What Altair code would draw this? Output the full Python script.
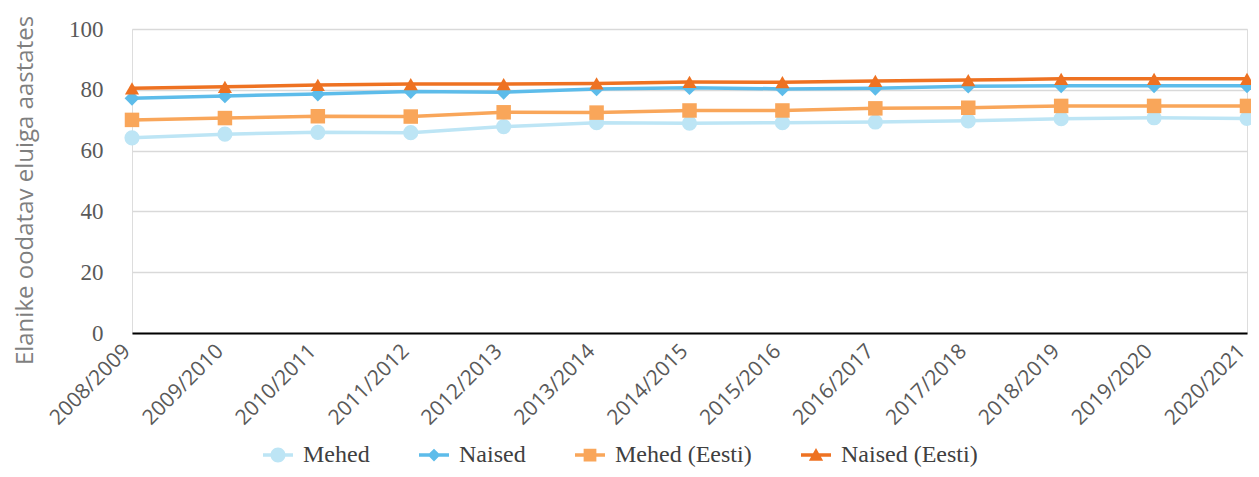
import altair as alt
import pandas as pd

categories = ["2008/2009", "2009/2010", "2010/2011", "2011/2012", "2012/2013",
              "2013/2014", "2014/2015", "2015/2016", "2016/2017", "2017/2018",
              "2018/2019", "2019/2020", "2020/2021"]
series = ["Mehed", "Naised", "Mehed (Eesti)", "Naised (Eesti)"]
mehed = [64.2, 65.4, 66.0, 65.9, 67.9, 69.2, 69.0, 69.2, 69.4, 69.8, 70.5, 70.8, 70.6]
naised = [77.2, 78.0, 78.6, 79.4, 79.2, 80.3, 80.7, 80.3, 80.5, 81.2, 81.3, 81.3, 81.3]
mehed_eesti = [70.1, 70.7, 71.3, 71.2, 72.6, 72.5, 73.2, 73.2, 73.9, 74.1, 74.7, 74.7, 74.7]
naised_eesti = [80.5, 81.0, 81.6, 81.9, 81.9, 82.1, 82.6, 82.5, 82.9, 83.2, 83.6, 83.6, 83.6]

colors = ["#BDE5F5", "#5DBCEA", "#F9A65A", "#EE7222"]
shapes = ["circle", "diamond", "square", "triangle-up"]

rows = []
for name, vals in zip(series, [mehed, naised, mehed_eesti, naised_eesti]):
    for c, v in zip(categories, vals):
        rows.append({"aasta": c, "series": name, "value": v})
df = pd.DataFrame(rows)

# legend symbols: a horizontal bar with the series marker on top
bar = "M-2,-0.22L2,-0.22L2,0.22L-2,0.22Z"
legend_shapes = [
    bar + "M1,0A1,1,0,1,1,-1,0A1,1,0,1,1,1,0Z",
    bar + "M0,-0.85L0.85,0L0,0.85L-0.85,0Z",
    bar + "M-0.85,-0.85L0.85,-0.85L0.85,0.85L-0.85,0.85Z",
    bar + "M0,-0.95L0.95,0.75L-0.95,0.75Z",
]

legend = alt.Legend(
    title=None, orient="none", legendX=134, legendY=414, direction="horizontal",
    labelFont="Liberation Serif", labelFontSize=24, labelColor="#404040",
    symbolSize=225, labelOffset=13, columnPadding=49,
    symbolStrokeWidth=0, symbolOpacity=1,
)

x = alt.X("aasta:N", sort=categories,
          scale=alt.Scale(type="point", padding=0),
          axis=alt.Axis(title=None, labelAngle=-45, labelAlign="right", labelBaseline="top",
                        labelFont="Open Sans", labelFontSize=21, labelColor="#595959",
                        labelPadding=7, labelOffset=-13, ticks=False, domain=True,
                        domainColor="#000000", domainWidth=2, grid=False, labelOverlap=False))
y = alt.Y("value:Q", scale=alt.Scale(domain=[0, 100], nice=False),
          axis=alt.Axis(title="Elanike oodatav eluiga aastates", values=[0, 20, 40, 60, 80, 100],
                        titleFont="Open Sans", titleFontSize=24, titleFontWeight="normal",
                        titleColor="#7F7F7F", titlePadding=31, titleY=161,
                        labelFont="Liberation Serif", labelFontSize=23, labelColor="#595959",
                        labelPadding=29, ticks=False, domain=False,
                        grid=True, gridColor="#D9D9D9", gridWidth=1.5))


def col(leg):
    return alt.Color("series:N", sort=series, scale=alt.Scale(domain=series, range=colors), legend=leg)


lines = alt.Chart(df).mark_line(strokeWidth=3.5).encode(
    x=x, y=y, color=col(None), detail="series:N")
points = alt.Chart(df).mark_point(filled=True, opacity=1, strokeWidth=0).encode(
    x=x, y=y, color=col(None),
    shape=alt.Shape("series:N", sort=series, scale=alt.Scale(domain=series, range=shapes), legend=None),
    size=alt.Size("series:N", sort=series, scale=alt.Scale(domain=series, range=[230, 200, 290, 300]), legend=None),
)
legend_layer = alt.Chart(df).transform_filter("false").mark_point(
    filled=True, opacity=1, strokeWidth=0).encode(
    x=x, y=y, color=col(legend),
    shape=alt.Shape("series:N", sort=series, scale=alt.Scale(domain=series, range=legend_shapes), legend=legend),
)

chart = alt.layer(lines, points, legend_layer).resolve_scale(
    color="independent", shape="independent", size="independent"
).properties(
    width=1115, height=304,
    autosize=alt.AutoSizeParams(type="none"),
    padding={"left": 124, "top": 21, "right": 4, "bottom": 136},
).configure_view(stroke=None).configure(background="white")

chart.save("out.html", embed_options={"renderer": "svg", "actions": False})
